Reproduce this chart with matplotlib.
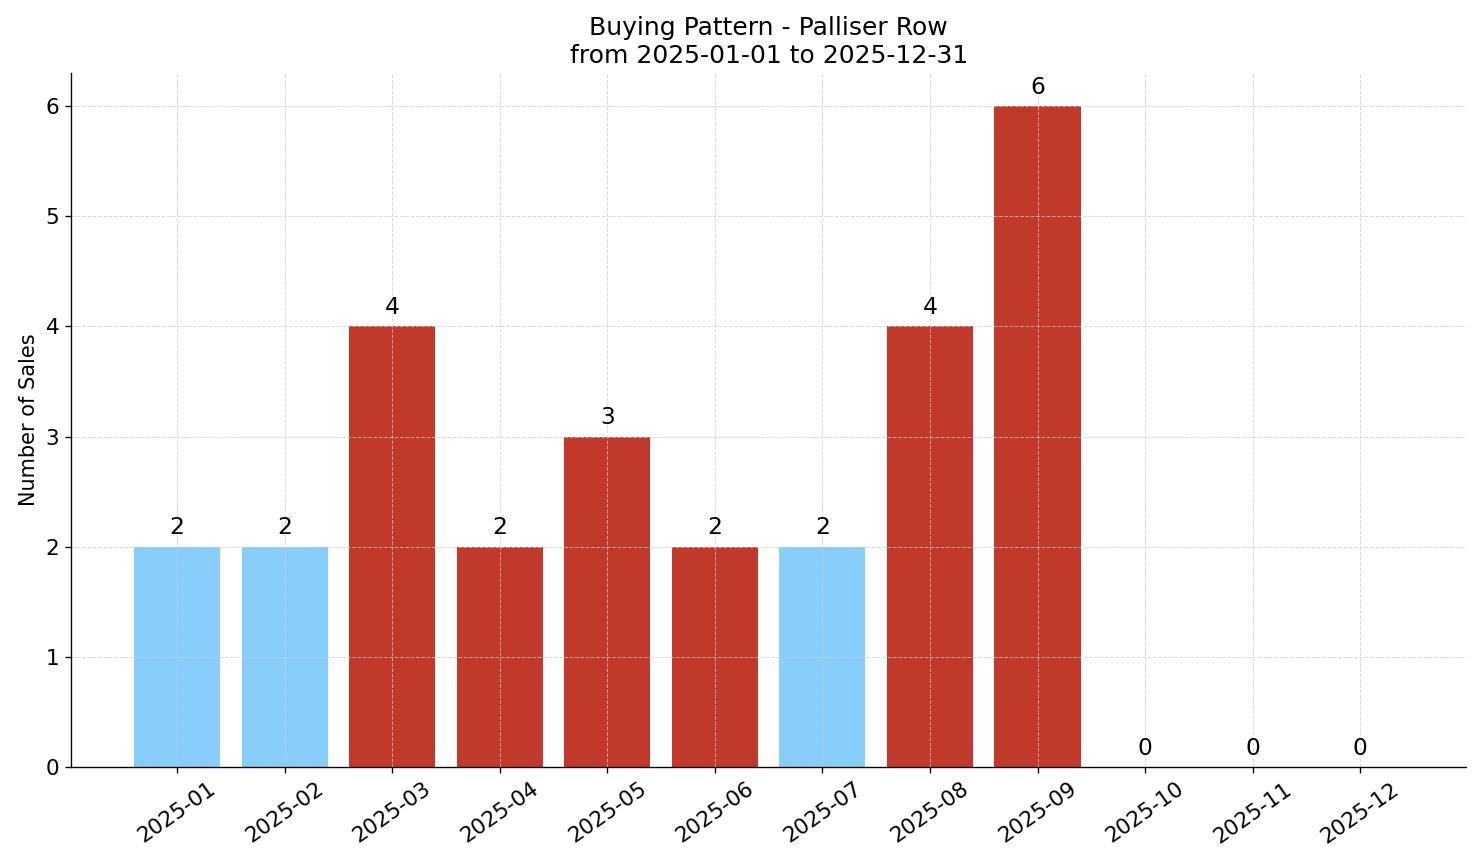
import matplotlib
matplotlib.use("Agg")
import matplotlib.pyplot as plt

# data
months = ["2025-01", "2025-02", "2025-03", "2025-04", "2025-05", "2025-06",
          "2025-07", "2025-08", "2025-09", "2025-10", "2025-11", "2025-12"]
sales = [2, 2, 4, 2, 3, 2, 2, 4, 6, 0, 0, 0]
colors = ["#87CEFA", "#87CEFA", "#C0392B", "#C0392B", "#C0392B", "#C0392B",
          "#87CEFA", "#C0392B", "#C0392B", "#C0392B", "#C0392B", "#C0392B"]

fig, ax = plt.subplots(figsize=(1481 / 120, 863 / 120), dpi=120)

x = range(len(months))
bars = ax.bar(x, sales, color=colors, width=0.8)

for b, v in zip(bars, sales):
    ax.annotate(str(v), (b.get_x() + b.get_width() / 2, v),
                xytext=(0, 4.5), textcoords="offset points",
                ha="center", va="bottom", fontsize=14)

ax.set_xticks(list(x))
ax.set_xticklabels(months, rotation=35, fontsize=13)
ax.tick_params(axis="y", labelsize=13)
ax.set_ylabel("Number of Sales", fontsize=12.5)
ax.set_title("Buying Pattern - Palliser Row\nfrom 2025-01-01 to 2025-12-31", fontsize=15)
ax.set_xlim(-0.986, 11.986)
ax.set_ylim(0, 6.3)

ax.grid(True, linestyle="--", color="#cccccc", alpha=0.7, linewidth=0.6)
ax.spines["top"].set_visible(False)
ax.spines["right"].set_visible(False)

fig.subplots_adjust(left=0.048, right=0.99, top=0.9154, bottom=0.1112)
fig.savefig("out.png", dpi=120)
